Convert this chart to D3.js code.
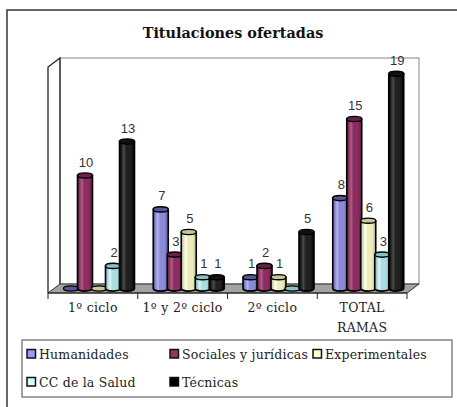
<!DOCTYPE html>
<html><head><meta charset="utf-8">
<script src="https://cdn.jsdelivr.net/npm/d3@7"></script>
<style>body{margin:0;background:#fff}svg{display:block}</style>
</head><body>
<script>
const title = "Titulaciones ofertadas";
const categories = ["1º ciclo", "1º y 2º ciclo", "2º ciclo", "TOTAL RAMAS"];
const categoryLines = [["1º ciclo"], ["1º y 2º ciclo"], ["2º ciclo"], ["TOTAL", "RAMAS"]];
const seriesNames = ["Humanidades", "Sociales y jurídicas", "Experimentales", "CC de la Salud", "Técnicas"];
const humanidades = [0, 7, 1, 8];
const socialesJuridicas = [10, 3, 2, 15];
const experimentales = [0, 5, 1, 6];
const ccSalud = [2, 1, 0, 3];
const tecnicas = [13, 1, 5, 19];
const seriesValues = [humanidades, socialesJuridicas, experimentales, ccSalud, tecnicas];
const yMax = 20;

const W = 457, H = 407;
const svg = d3.select("body").append("svg").attr("width", W).attr("height", H);
const defs = svg.append("defs");

// colours
const legendFill = ["#9999FF", "#993366", "#FFFFCC", "#CCFFFF", "#000000"];
const bodyCols = [
  {e:"#5a5a9e", m:"#8a8ad6", h:"#b4b4f4"},
  {e:"#5e1c40", m:"#8c2c60", h:"#b25a88"},
  {e:"#b8b88c", m:"#ececbc", h:"#fffff0"},
  {e:"#7ab2b8", m:"#aadde2", h:"#dcf6f8"},
  {e:"#000000", m:"#202020", h:"#4a4a4a"}
];
const topCols = ["#5656a0", "#6a1e48", "#c8c896", "#86c2c8", "#111111"];
bodyCols.forEach((c, i) => {
  const g = defs.append("linearGradient").attr("id", "g" + i).attr("x1", 0).attr("x2", 1).attr("y1", 0).attr("y2", 0);
  [[0, c.e], [0.3, c.h], [0.45, c.m], [0.75, c.m], [1, c.e]].forEach(s => g.append("stop").attr("offset", s[0]).attr("stop-color", s[1]));
});

// geometry
const x0 = 48, x1 = 407, yFront = 293, dx = 12, dy = 9;
const yScale = d3.scaleLinear().domain([0, yMax]).range([yFront - dy, 58]);
const xCat = d3.scaleBand().domain(categories).range([x0, x1]).paddingInner(0).paddingOuter(0);
const xSer = d3.scaleBand().domain(seriesNames).range([10, 80]);

// outer frame (partially visible)
svg.append("path").attr("d", `M7,${H} L7,10 L${W},10`).attr("fill", "none").attr("stroke", "#333").attr("stroke-width", 1.5);

// title
svg.append("text").attr("x", 233).attr("y", 38).attr("text-anchor", "middle")
  .attr("font-family", "DejaVu Serif").attr("font-weight", "bold").attr("font-size", 14.4).attr("fill", "#111").text(title);

// back wall
const bx0 = x0 + dx, bx1 = x1 + dx, byTop = yScale(yMax), byBot = yScale(0);
svg.append("rect").attr("x", bx0).attr("y", byTop).attr("width", bx1 - bx0).attr("height", byBot - byTop)
  .attr("fill", "#fff").attr("stroke", "#888").attr("stroke-width", 1);
// left wall
svg.append("path").attr("d", `M${x0},${yFront} L${x0},${byTop + dy} L${bx0},${byTop} L${bx0},${byBot}`)
  .attr("fill", "none").attr("stroke", "#222").attr("stroke-width", 1.3);
// floor
svg.append("path").attr("d", `M${x0},${yFront} L${x1},${yFront} L${bx1},${byBot} L${bx0},${byBot} Z`)
  .attr("fill", "#a3a3a3").attr("stroke", "#333").attr("stroke-width", 1);

// ticks
const tickXs = categories.map(c => xCat(c)).concat([x1]);
svg.selectAll(".tick").data(tickXs).join("line")
  .attr("x1", d => d).attr("x2", d => d).attr("y1", yFront).attr("y2", yFront + 6)
  .attr("stroke", "#222").attr("stroke-width", 1);
svg.append("line").attr("x1", x0).attr("x2", x1).attr("y1", yFront).attr("y2", yFront).attr("stroke", "#222").attr("stroke-width", 1.2);

// category labels
categories.forEach((c, i) => {
  const t = svg.append("text").attr("text-anchor", "middle").attr("font-family", "DejaVu Serif").attr("font-size", 12.5)
    .attr("letter-spacing", 0.3).attr("fill", "#222");
  categoryLines[i].forEach((ln, k) => {
    t.append("tspan").attr("x", xCat(c) + xCat.bandwidth() / 2).attr("y", 312 + k * 20).text(ln);
  });
});

// cylinders
const rx = 7.5, ry = 2.6;
const baseY = yScale(0) + dy / 2;
const bars = [];
categories.forEach((c, ci) => {
  seriesNames.forEach((s, si) => {
    bars.push({c, ci, s, si, v: seriesValues[si][ci]});
  });
});
const g = svg.append("g");
const lg = svg.append("g");
bars.forEach(b => {
  const cx = xCat(b.c) + dx / 2 + xSer(b.s) + xSer.bandwidth() / 2;
  const ty = yScale(b.v) + dy / 2;
  const grp = g.append("g");
  if (b.v > 0) {
    grp.append("path")
      .attr("d", `M${cx - rx},${ty} L${cx - rx},${baseY} A${rx},${ry} 0 0 0 ${cx + rx},${baseY} L${cx + rx},${ty} Z`)
      .attr("fill", `url(#g${b.si})`).attr("stroke", "#000").attr("stroke-width", 1.6);
  }
  grp.append("ellipse").attr("cx", cx).attr("cy", ty).attr("rx", rx).attr("ry", ry)
    .attr("fill", topCols[b.si]).attr("stroke", "#000").attr("stroke-width", 1.4);
  if (b.v > 0) {
    lg.append("text").attr("x", cx + 1).attr("y", ty - 9).attr("text-anchor", "middle")
      .attr("font-family", "Liberation Sans").attr("font-size", 13).attr("fill", "#333").text(b.v);
  }
});

// legend
svg.append("rect").attr("x", 22).attr("y", 340).attr("width", 430).attr("height", 57)
  .attr("fill", "#fff").attr("stroke", "#666").attr("stroke-width", 1.2);
const legPos = [[27, 354], [170, 354], [313, 354], [27, 382], [170, 382]];
seriesNames.forEach((s, i) => {
  const [lx, ly] = legPos[i];
  svg.append("rect").attr("x", lx).attr("y", ly - 4.5).attr("width", 8.5).attr("height", 8.5)
    .attr("fill", legendFill[i]).attr("stroke", "#111").attr("stroke-width", 1.5);
  svg.append("text").attr("x", lx + 12).attr("y", ly + 4.5).attr("font-family", "DejaVu Serif").attr("font-size", 12.5)
    .attr("letter-spacing", 0.2).attr("fill", "#222").text(s);
});
</script>
</body></html>
